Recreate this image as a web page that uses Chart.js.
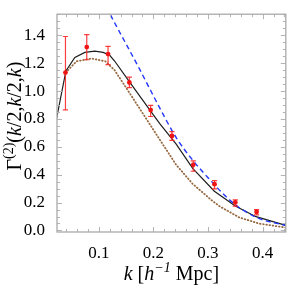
<!DOCTYPE html>
<html><head><meta charset="utf-8">
<script src="https://cdn.jsdelivr.net/npm/chart.js@4.4.0/dist/chart.umd.min.js"></script>
<style>html,body{margin:0;padding:0;background:#fff;overflow:hidden}#wrap{width:291px;height:291px;position:relative}</style>
</head><body><div id="wrap"><canvas id="c" width="291" height="291"></canvas></div>
<script>
// ---- data ----
const xTickValues = [0.1, 0.2, 0.3, 0.4];
const yTickValues = [0.0, 0.2, 0.4, 0.6, 0.8, 1.0, 1.2, 1.4];

const pointK  = [0.039, 0.078, 0.117, 0.156, 0.195, 0.234, 0.273, 0.312, 0.350, 0.389];
const pointG  = [1.133, 1.316, 1.266, 1.062, 0.864, 0.678, 0.471, 0.332, 0.201, 0.133];
const errLow  = [0.866, 1.225, 1.190, 1.025, 0.818, 0.647, 0.425, 0.299, 0.174, 0.112];
const errHigh = [1.392, 1.406, 1.321, 1.100, 0.898, 0.710, 0.500, 0.357, 0.220, 0.149];

const blackK = [0.0215, 0.0398, 0.0562, 0.0745, 0.0927, 0.108, 0.120, 0.129, 0.1566, 0.195, 0.2113, 0.2418, 0.272, 0.3117, 0.350, 0.388, 0.4425];
const blackG = [0.779, 1.145, 1.241, 1.278, 1.287, 1.278, 1.257, 1.216, 1.065, 0.856, 0.768, 0.620, 0.446, 0.282, 0.175, 0.099, 0.037];

const brownK = [0.0395, 0.0593, 0.0867, 0.112, 0.129, 0.1566, 0.193, 0.2113, 0.2418, 0.272, 0.3057, 0.321, 0.357, 0.394, 0.4425];
const brownG = [1.133, 1.214, 1.234, 1.214, 1.150, 0.985, 0.765, 0.654, 0.471, 0.334, 0.220, 0.174, 0.094, 0.049, 0.021];

const blueK = [0.100, 0.120, 0.175, 0.193, 0.2113, 0.2418, 0.272, 0.3026, 0.333, 0.357, 0.394, 0.4425];
const blueG = [1.710, 1.557, 1.156, 1.019, 0.882, 0.666, 0.505, 0.368, 0.243, 0.165, 0.085, 0.037];

const xRange = [0.0235, 0.4425];
const yRange = [-0.011, 1.552];

// ---- build ----
const zip = (a, b) => a.map((v, i) => ({x: v, y: b[i]}));
const errData = [];
pointK.forEach((k, i) => { errData.push({x:k, y:errLow[i]}, {x:k, y:errHigh[i]}, {x:k, y:null}); });

const FONT = '"Liberation Serif", "Times New Roman", serif';

function drawRich(ctx, segs, size, cx, baseY) {
  const fontOf = s => `${s.italic ? 'italic ' : ''}${s.sup ? Math.round(size*0.7) : size}px ${FONT}`;
  let total = 0;
  segs.forEach(s => { ctx.font = fontOf(s); s.w = ctx.measureText(s.t).width; total += s.w; });
  let x = cx - total/2;
  ctx.textBaseline = 'alphabetic';
  ctx.textAlign = 'left';
  segs.forEach(s => {
    ctx.font = fontOf(s);
    ctx.fillText(s.t, x, baseY + (s.sup ? -size*0.38 : 0));
    x += s.w;
  });
}

const framePlugin = {
  id: 'frame',
  afterDraw(chart) {
    const {ctx, chartArea: a, scales} = chart;
    const xs = scales.x, ys = scales.y;
    ctx.save();
    ctx.strokeStyle = '#b4b4b4';
    ctx.lineWidth = 1;
    const tick = (len, px, vertical) => {
      ctx.beginPath();
      if (vertical) { ctx.moveTo(px, a.bottom); ctx.lineTo(px, a.bottom - len); ctx.moveTo(px, a.top); ctx.lineTo(px, a.top + len); }
      else { ctx.moveTo(a.left, px); ctx.lineTo(a.left + len, px); ctx.moveTo(a.right, px); ctx.lineTo(a.right - len, px); }
      ctx.stroke();
    };
    for (let i = 1; i <= 22; i++) {
      const v = i * 0.02;
      if (v < xs.min || v > xs.max) continue;
      const major = i % 5 === 0;
      tick(major ? 5 : 3, Math.round(xs.getPixelForValue(v)) + 0.5, true);
    }
    for (let i = 0; i <= 31; i++) {
      const v = i * 0.05;
      if (v < ys.min || v > ys.max) continue;
      const major = i % 4 === 0;
      tick(major ? 5 : 3, Math.round(ys.getPixelForValue(v)) + 0.5, false);
    }
    ctx.lineWidth = 1.3;
    ctx.strokeStyle = '#aaaaaa';
    ctx.strokeRect(a.left, a.top, a.right - a.left, a.bottom - a.top);
    ctx.fillStyle = '#000';
    drawRich(ctx, [
      {t:'k', italic:true}, {t:' ['}, {t:'h', italic:true}, {t:'\u22121', italic:true, sup:true}, {t:' Mpc]'}
    ], 20, (a.left + a.right)/2, a.bottom + 48);
    ctx.save();
    ctx.translate(21, (a.top + a.bottom)/2 - 7);
    ctx.rotate(-Math.PI/2);
    drawRich(ctx, [
      {t:'\u0393'}, {t:'(2)', sup:true}, {t:'('}, {t:'k', italic:true}, {t:'/2,'}, {t:'k', italic:true}, {t:'/2,'}, {t:'k', italic:true}, {t:')'}
    ], 20, 0, 0);
    ctx.restore();
    ctx.restore();
  }
};

new Chart(document.getElementById('c'), {
  type: 'scatter',
  data: {
    datasets: [
      { label: 'measured', data: zip(pointK, pointG), backgroundColor: 'rgb(240,20,20)', borderColor: 'rgb(240,20,20)',
        pointRadius: 2.4, pointBorderWidth: 0, showLine: false, order: 0 },
      { label: 'errors', data: errData, showLine: true, spanGaps: false, borderColor: 'rgba(250,40,40,0.9)', borderWidth: 1.2,
        pointStyle: 'line', pointRadius: 2.6, pointBorderWidth: 1.2, pointBorderColor: 'rgba(250,40,40,0.9)', order: 1 },
      { label: 'black', data: zip(blackK, blackG), showLine: true, borderColor: '#1e1e1e', borderWidth: 1.2,
        pointRadius: 0, tension: 0, order: 3 },
      { label: 'blue', data: zip(blueK, blueG), showLine: true, borderColor: 'rgb(35,55,250)', borderWidth: 1.4,
        borderDash: [5, 3.5], pointRadius: 0, cubicInterpolationMode: 'monotone', order: 2 },
      { label: 'brown', data: zip(brownK, brownG), showLine: true, borderColor: 'rgb(150,105,65)', borderWidth: 1.8,
        borderDash: [0.6, 2.6], borderCapStyle: 'round', pointRadius: 0, tension: 0, order: 4 }
    ]
  },
  options: {
    responsive: false, animation: false, devicePixelRatio: 1,
    layout: { padding: { top: 4, right: 4, left: 0, bottom: 0 } },
    plugins: { legend: { display: false }, tooltip: { enabled: false } },
    scales: {
      x: {
        type: 'linear', min: xRange[0], max: xRange[1],
        grid: { display: false }, border: { display: false },
        afterBuildTicks: s => { s.ticks = xTickValues.map(v => ({value: v})); },
        afterFit: s => { s.height = 59; },
        ticks: { color: '#000', padding: 3, maxRotation: 0, autoSkip: false,
          font: { family: FONT, size: 17 }, callback: v => Number(v).toFixed(1) }
      },
      y: {
        type: 'linear', min: yRange[0], max: yRange[1],
        grid: { display: false }, border: { display: false },
        afterBuildTicks: s => { s.ticks = yTickValues.map(v => ({value: v})); },
        afterFit: s => { s.width = 57; },
        ticks: { color: '#000', padding: 4, autoSkip: false,
          font: { family: FONT, size: 17 }, callback: v => Number(v).toFixed(1) }
      }
    }
  },
  plugins: [framePlugin]
});
</script></body></html>
